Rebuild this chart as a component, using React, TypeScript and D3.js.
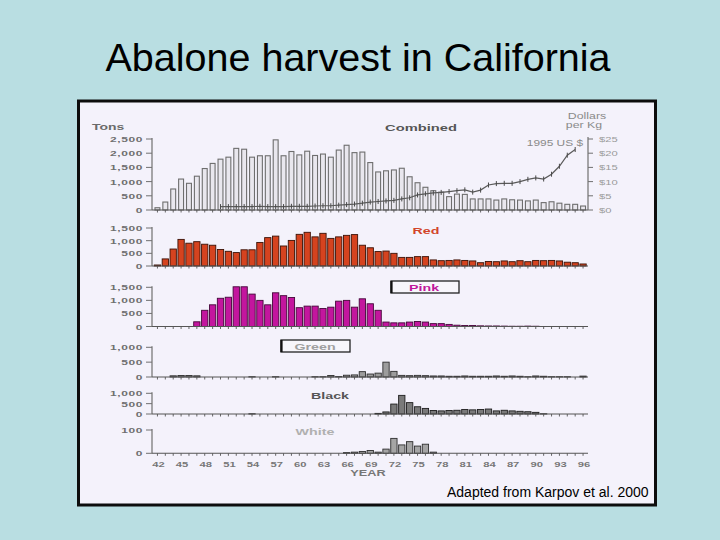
import React from 'react';
import * as d3 from 'd3';

const years = [1942,1943,1944,1945,1946,1947,1948,1949,1950,1951,1952,1953,1954,1955,1956,1957,1958,1959,1960,1961,1962,1963,1964,1965,1966,1967,1968,1969,1970,1971,1972,1973,1974,1975,1976,1977,1978,1979,1980,1981,1982,1983,1984,1985,1986,1987,1988,1989,1990,1991,1992,1993,1994,1995,1996];

const combinedTons = [80,280,740,1090,940,1190,1460,1640,1790,1860,2170,2140,1860,1910,1910,2470,1910,2060,1940,2070,1920,1970,1860,2110,2280,2020,2040,1670,1340,1380,1410,1470,1170,960,800,680,630,470,560,550,390,390,390,350,390,360,350,320,350,260,290,240,200,200,140];
const redTons = [40,280,670,1050,900,960,860,820,650,580,530,640,640,930,1120,1180,790,1010,1250,1330,1150,1290,1090,1150,1210,1240,820,720,570,590,500,340,340,370,370,240,210,220,240,220,200,130,180,170,200,170,210,170,220,210,220,200,150,130,80];
const pinkTons = [0,0,0,0,0,180,620,830,1080,1120,1520,1520,1240,1000,830,1290,1180,1110,720,780,780,690,740,970,1000,740,1060,870,620,170,140,140,170,190,170,110,110,80,50,40,40,25,20,20,15,10,10,15,10,5,5,5,5,5,5];
const greenTons = [0,0,40,50,50,40,5,5,5,5,5,5,10,5,5,10,5,5,5,5,10,10,50,15,60,70,180,100,130,500,190,55,45,55,45,35,35,25,25,35,25,25,25,35,25,35,25,10,35,25,10,10,10,5,30];
const blackTons = [0,0,0,0,0,0,0,0,0,0,0,0,10,0,0,0,0,0,0,0,0,0,0,0,0,0,0,0,30,100,480,900,550,350,270,170,150,170,180,220,200,220,240,150,180,150,130,110,80,10,5,0,0,0,0];
const whiteTons = [0,0,0,0,0,0,0,0,0,0,0,0,0,0,0,0,0,0,0,0,0,0,0,0,3,5,8,12,5,18,64,36,50,31,39,5,0,0,0,0,0,0,0,0,0,0,0,0,0,0,0,0,0,0,0];

const priceYears = [1950,1951,1952,1953,1954,1955,1956,1957,1958,1959,1960,1961,1962,1963,1964,1965,1966,1967,1968,1969,1970,1971,1972,1973,1974,1975,1976,1977,1978,1979,1980,1981,1982,1983,1984,1985,1986,1987,1988,1989,1990,1991,1992,1993,1994,1995];
const priceDollars = [1.2,1.2,1.2,1.2,1.2,1.3,1.2,1.2,1.2,1.3,1.3,1.3,1.4,1.5,1.5,1.7,1.9,2.1,2.4,2.8,3.0,3.2,3.4,3.9,4.3,5.3,5.7,6.0,6.2,6.5,6.8,7.1,6.3,7.0,8.8,9.3,9.4,9.4,10.0,10.8,11.3,10.9,12.6,15.4,19.3,21.3];

const yearTickYears = [1942,1945,1948,1951,1954,1957,1960,1963,1966,1969,1972,1975,1978,1981,1984,1987,1990,1993,1996];
const combinedTicks = [0,500,1000,1500,2000,2500];
const redTicks = [0,500,1000,1500];
const pinkTicks = [0,500,1000,1500];
const greenTicks = [0,500,1000];
const blackTicks = [0,500,1000];
const whiteTicks = [0,100];
const dollarTicks = [0,5,10,15,20,25];

const FONT = "'Liberation Sans', Arial, sans-serif";

function T(props: any) {
  const { x, y, sx = 1.5, anchor = 'start', size = 8, weight = 'bold', fill = '#6f6f6f', ls = 0, children } = props;
  return (
    <text transform={`translate(${x},${y}) scale(${sx},1)`} textAnchor={anchor} fontSize={size}
      fontWeight={weight} fill={fill} fontFamily={FONT} letterSpacing={ls}>{children}</text>
  );
}

export default function App() {
  const x = d3.scaleBand<number>().domain(years).range([153.5, 587]).paddingInner(0.2).paddingOuter(0.1);
  const cx = (yr: number) => (x(yr) as number) + x.bandwidth() / 2;

  const panels = [
    { key: 'combined', data: combinedTons, base: 210, top: 139, max: 2500, ticks: combinedTicks, fill: '#e9e7ee', stroke: '#6e6e6e', wf: 0.78 },
    { key: 'red', data: redTons, base: 266, top: 228, max: 1500, ticks: redTicks, fill: '#d5431f', stroke: '#3b1206', wf: 1 },
    { key: 'pink', data: pinkTons, base: 326.5, top: 287.3, max: 1500, ticks: pinkTicks, fill: '#c3169e', stroke: '#45083a', wf: 1 },
    { key: 'green', data: greenTons, base: 377, top: 347.3, max: 1000, ticks: greenTicks, fill: '#9c9c9c', stroke: '#2e2e2e', wf: 1 },
    { key: 'black', data: blackTons, base: 414, top: 393.3, max: 1000, ticks: blackTicks, fill: '#7a7a7a', stroke: '#1e1e1e', wf: 1 },
    { key: 'white', data: whiteTons, base: 453.3, top: 430, max: 100, ticks: whiteTicks, fill: '#a5a5a5', stroke: '#2e2e2e', wf: 1 },
  ];

  const fmt = d3.format(',');
  const dollarY = d3.scaleLinear().domain([0, 25]).range([210, 139]);
  const priceLine = d3.line<number>().x((_, i) => cx(priceYears[i])).y((d) => dollarY(d));

  return (
    <svg width={720} height={540} style={{ position: 'absolute', left: 0, top: 0 }} fontFamily={FONT}>
      <rect x={0} y={0} width={720} height={540} fill="#b9dee2" />
      <text x={358} y={71} textAnchor="middle" fontSize={39.5} fill="#000" fontFamily={FONT}>Abalone harvest in California</text>
      <rect x={78.5} y={101} width={577} height={404} fill="#f4f2fb" stroke="#0d0d0d" strokeWidth={3} />

      {panels.map((p) => {
        const y = d3.scaleLinear().domain([0, p.max]).range([p.base, p.top]);
        const bw = x.bandwidth() * p.wf;
        return (
          <g key={p.key}>
            {p.data.map((v, i) => {
              const h = p.base - y(v);
              if (h <= 0.2) return null;
              return (
                <rect key={i} x={cx(years[i]) - bw / 2} y={y(v)} width={bw} height={h}
                  fill={p.fill} stroke={p.stroke} strokeWidth={p.key === 'combined' ? 1.1 : 0.9} />
              );
            })}
            <line x1={152} x2={152} y1={p.base} y2={p.top - 1} stroke="#707070" strokeWidth={1.2} />
            <line x1={152} x2={588} y1={p.base} y2={p.base} stroke="#555" strokeWidth={1.1} />
            {years.map((yr) => (
              <line key={yr} x1={cx(yr)} x2={cx(yr)} y1={p.base} y2={p.base + 2.5} stroke="#555" strokeWidth={0.9} />
            ))}
            {p.ticks.map((t) => (
              <g key={t}>
                <line x1={146} x2={152} y1={y(t)} y2={y(t)} stroke="#707070" strokeWidth={1} />
                <T x={143} y={y(t) + 3} anchor="end" size={8} sx={1.5} ls={0.4}>{fmt(t)}</T>
              </g>
            ))}
          </g>
        );
      })}

      <path d={priceLine(priceDollars) || ''} fill="none" stroke="#5a5a5a" strokeWidth={1.2} />
      {priceDollars.map((d, i) => (
        <line key={i} x1={cx(priceYears[i])} x2={cx(priceYears[i])} y1={dollarY(d) - 2.5} y2={dollarY(d) + 2.5} stroke="#4a4a4a" strokeWidth={1} />
      ))}
      <line x1={588} x2={588} y1={210} y2={137} stroke="#707070" strokeWidth={1.2} />
      {dollarTicks.map((t) => (
        <g key={t}>
          <line x1={588} x2={593} y1={dollarY(t)} y2={dollarY(t)} stroke="#707070" strokeWidth={1} />
          <T x={599} y={dollarY(t) + 3} size={8} sx={1.4} fill="#9a9a9a" weight="normal">{'$' + t}</T>
        </g>
      ))}

      <T x={92} y={130} size={9} sx={1.55} fill="#6a6a6a">Tons</T>
      <T x={421} y={131} anchor="middle" size={9.5} sx={1.55} fill="#555">Combined</T>
      <T x={587} y={118.5} anchor="middle" size={8.5} sx={1.45} fill="#8a8a8a" weight="normal">Dollars</T>
      <T x={584} y={128} anchor="middle" size={8.5} sx={1.45} fill="#8a8a8a" weight="normal">per Kg</T>
      <T x={583} y={146} anchor="end" size={8.5} sx={1.4} fill="#8a8a8a" weight="normal">1995 US $</T>

      <T x={426} y={234} anchor="middle" size={9.5} sx={1.5} fill="#d2452a">Red</T>
      <rect x={391} y={281} width={68} height={12} fill="#f7f6fb" stroke="#222" strokeWidth={1.3} />
      <line x1={391.5} x2={391.5} y1={281} y2={293} stroke="#111" strokeWidth={2.2} />
      <T x={424} y={290.5} anchor="middle" size={9.5} sx={1.5} fill="#c0169c">Pink</T>
      <rect x={281} y={340} width={69} height={12} fill="#f7f6fb" stroke="#222" strokeWidth={1.3} />
      <line x1={281.5} x2={281.5} y1={340} y2={352} stroke="#111" strokeWidth={2.2} />
      <T x={315} y={349.5} anchor="middle" size={9.5} sx={1.5} fill="#a0a0a0">Green</T>
      <T x={330} y={398.5} anchor="middle" size={9.5} sx={1.5} fill="#555">Black</T>
      <T x={315} y={434.5} anchor="middle" size={9.5} sx={1.5} fill="#b0b0b0">White</T>

      {yearTickYears.map((yr) => (
        <T key={yr} x={cx(yr) + 1} y={467} anchor="middle" size={8} sx={1.4} fill="#777">{String(yr).slice(2)}</T>
      ))}
      <T x={368} y={476} anchor="middle" size={8.5} sx={1.5} fill="#777">YEAR</T>

      <text x={447} y={497} fontSize={14} fill="#000" fontFamily={FONT}>Adapted from Karpov et al. 2000</text>
    </svg>
  );
}
